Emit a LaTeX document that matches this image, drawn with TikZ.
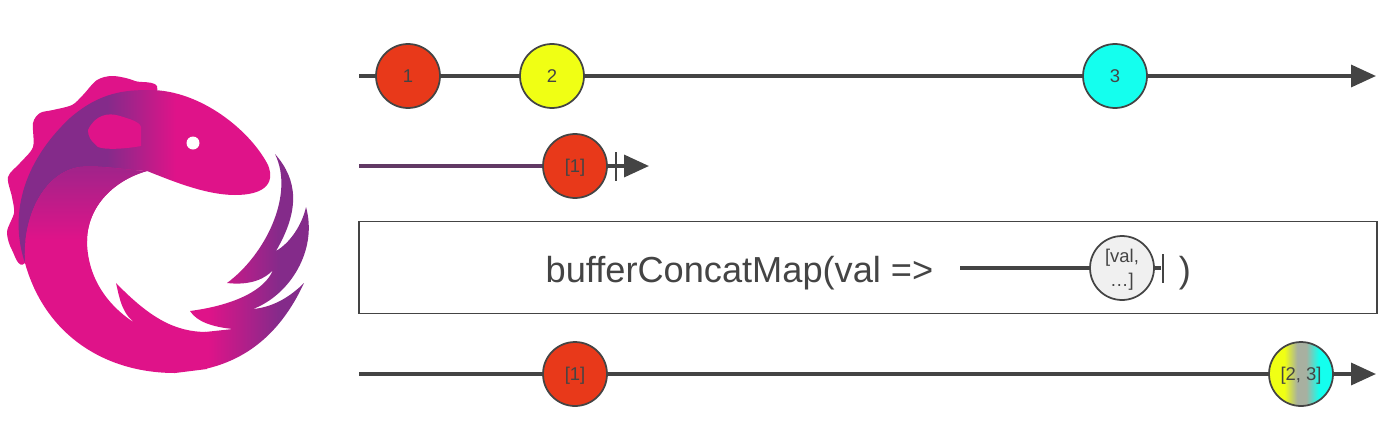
\documentclass[tikz,border=0pt]{standalone}
\usepackage{fontspec}
\setmainfont{Liberation Sans}
\usetikzlibrary{arrows.meta}
\definecolor{inkgrey}{HTML}{444444}
\definecolor{rxpink}{HTML}{DF1389}
\definecolor{rxpurple}{HTML}{842B8A}
\definecolor{marblered}{HTML}{E8391A}
\definecolor{marbleyellow}{HTML}{F0FF14}
\definecolor{marblecyan}{HTML}{14FFEE}
\definecolor{marblegrey}{HTML}{A8B0A0}
\pgfdeclarehorizontalshading{headshade}{100bp}{color(0bp)=(rxpurple); color(43bp)=(rxpurple); 
	color(56bp)=(rxpink); color(100bp)=(rxpink)}
\pgfdeclarehorizontalshading{tailshade}{100bp}{color(0bp)=(rxpink); color(32bp)=(rxpink); 
	color(60bp)=(rxpurple); color(100bp)=(rxpurple)}
\pgfdeclarehorizontalshading{mergeshade}{100bp}{color(0bp)=(marbleyellow); color(37bp)=(marbleyellow); 
	color(47bp)=(marblegrey); color(54bp)=(marblegrey); color(64bp)=(marblecyan); color(100bp)=(marblecyan)}
\tikzstyle{marble} = [circle, minimum size = 1.28cm, inner sep = 0pt, 
	draw = inkgrey, line width = 0.035cm, text = inkgrey, align = center, text depth = 0pt, 
	font = \fontsize{10.5}{14}\selectfont]
\tikzstyle{timeline} = [line width = 0.07cm, draw = inkgrey]
\tikzstyle{arrowline} = [timeline, -{Triangle[length = 0.5cm, width = 0.44cm]}]
\tikzstyle{stopbar} = [rectangle, fill = inkgrey, inner sep = 0pt, 
	minimum width = 0.05cm, minimum height = 0.58cm]

\begin{document}
\begin{tikzpicture}[x = 0.02cm, y = -0.02cm]

\useasboundingbox (0,0) rectangle (1400,430);

% logo
\fill [rxpink] plot [smooth cycle] coordinates {(155,95) (135,81) (113,76) (97,80) (83,95) 
	(72,105) (53,110) (40,113) (33,123) (33,147) (20,163) (8,177) (12,197) (14,213) 
	(7,232) (12,250) (25,263) (60,200)};
\shade [shading = headshade] 
	(25,263) .. controls (12,225) and (15,170) .. (70,118) 
	.. controls (100,92) and (125,90) .. (150,90) 
	.. controls (200,90) and (250,130) .. (268,165) 
	.. controls (276,185) and (262,195) .. (235,195) 
	.. controls (205,195) and (170,180) .. (147,171) 
	-- (80,167) -- cycle;
\fill [rxpink] (88,130) .. controls (95,115) and (108,112) .. (120,116) 
	.. controls (130,119) and (140,122) .. (141,127) -- (141,146) 
	.. controls (125,149) and (105,150) .. (98,147) 
	.. controls (90,140) and (88,136) .. (88,130) -- cycle;
\node (eye) [circle, fill = white, minimum size = 0.26cm, inner sep = 0pt] at (193,143) {};
\shade [shading = tailshade] 
	(233,329) .. controls (213,327) and (197,322) .. (190,311) 
	.. controls (235,305) and (265,290) .. (273,270) 
	.. controls (262,282) and (245,285) .. (227,283) 
	.. controls (265,255) and (295,195) .. (275,154) 
	.. controls (298,180) and (300,210) .. (276,251) 
	.. controls (290,243) and (302,225) .. (306,207) 
	.. controls (318,250) and (290,295) .. (253,309) 
	.. controls (275,307) and (292,295) .. (304,283) 
	.. controls (280,335) and (245,360) .. (205,369) -- (205,332) -- cycle;
\fill [rxpink] (25,263) .. controls (45,335) and (105,373) .. (175,373) 
	-- (207,369) -- (207,332) 
	.. controls (175,332) and (150,318) .. (116,283) 
	.. controls (120,300) and (122,315) .. (138,325) 
	.. controls (105,305) and (87,275) .. (87,240) 
	.. controls (88,205) and (115,180) .. (147,171) 
	.. controls (125,170) and (100,165) .. (80,167) 
	.. controls (45,172) and (22,215) .. (25,263) -- cycle;
\begin{scope}
	\clip (147,171) .. controls (125,170) and (100,165) .. (80,167) 
		.. controls (45,172) and (22,215) .. (25,263) -- (87,263) -- (87,240) 
		.. controls (88,205) and (115,180) .. (147,171) -- cycle;
	\shade [top color = rxpurple!70!rxpink, bottom color = rxpink] (20,165) rectangle (150,240);
\end{scope}

% row one
\coordinate (startA) at (359,76);
\coordinate (endA) at (1376,76);
\draw [arrowline] (startA) -- (endA);
\node (marble1) [marble, fill = marblered] at (408,76) {1};
\node (marble2) [marble, fill = marbleyellow] at (552,76) {2};
\node (marble3) [marble, fill = marblecyan] at (1115,76) {3};

% row two
\coordinate (startB) at (359,166);
\coordinate (endB) at (649,166);
\node (stopB) [stopbar] at (616,166) {};
\node (bufferB) [marble, fill = marblered] at (575,166) {[1]};
\draw [timeline, draw = rxpurple!45!inkgrey] (startB) -- (bufferB);
\draw [arrowline] (bufferB) -- (endB);

% operator box
\node (opbox) [rectangle, draw = inkgrey, line width = 0.03cm, minimum width = 20.36cm, 
	minimum height = 1.84cm] at (868,267.5) {};
\node (optext) [text = inkgrey, font = \fontsize{20.6}{24}\selectfont] at (739.5,273) {bufferConcatMap(val =>};
\coordinate (startC) at (960,268);
\node (valmarble) [marble, fill = black!6] at (1122,268) {[val,\\ …]};
\node (stopC) [stopbar] at (1163,268) {};
\draw [timeline] (startC) -- (valmarble);
\draw [timeline] (valmarble) -- (stopC);
\node (opclose) [text = inkgrey, font = \fontsize{20.6}{24}\selectfont] at (1185,273) {)};

% row four
\coordinate (startD) at (359,374);
\coordinate (endD) at (1376,374);
\draw [arrowline] (startD) -- (endD);
\node (bufferD1) [marble, fill = marblered] at (575,374) {[1]};
\node (bufferD2) [marble, shade, shading = mergeshade] at (1301,374) {[2, 3]};

\end{tikzpicture}
\end{document}
